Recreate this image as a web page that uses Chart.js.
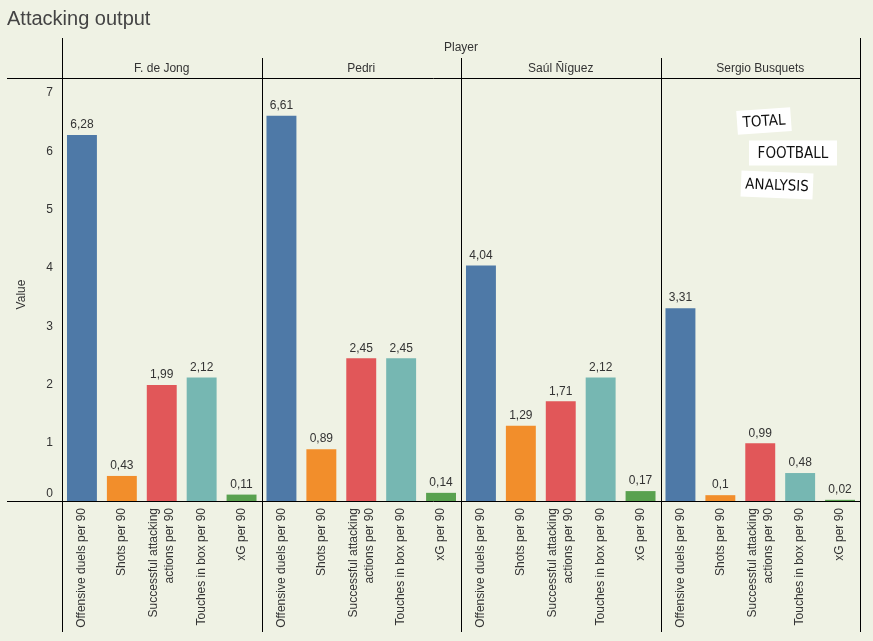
<!doctype html>
<html lang="en">
    <head>
        <meta charset="UTF-8" />
        <title>Attacking output</title>
        <script src="https://cdn.jsdelivr.net/npm/chart.js"></script>
        <style>
            html, body { margin: 0; padding: 0; background: #eff2e4; }
            #wrap { width: 873px; height: 641px; }
        </style>
    </head>
    <body>
        <div id="wrap"><canvas id="myChart"></canvas></div>
        <script>
            var players = ["F. de Jong", "Pedri", "Saúl Ñíguez", "Sergio Busquets"];
            var metricLabels = [
                ["Offensive duels per 90"],
                ["Shots per 90"],
                ["Successful attacking", "actions per 90"],
                ["Touches in box per 90"],
                ["xG per 90"]
            ];
            var deJong = [6.28, 0.43, 1.99, 2.12, 0.11];
            var pedri = [6.61, 0.89, 2.45, 2.45, 0.14];
            var saul = [4.04, 1.29, 1.71, 2.12, 0.17];
            var busquets = [3.31, 0.1, 0.99, 0.48, 0.02];
            var metricColors = ["#4e79a7", "#f28e2b", "#e15759", "#76b7b2", "#59a14f"];
            var yTicks = [0, 1, 2, 3, 4, 5, 6, 7];

            var FONT = "'Liberation Sans', Arial, sans-serif";
            var TEXT = "#333333";
            var BG = "#eff2e4";

            var labels = [];
            var values = [];
            var colors = [];
            [deJong, pedri, saul, busquets].forEach(function (arr) {
                arr.forEach(function (v, i) {
                    labels.push(metricLabels[i]);
                    values.push(v);
                    colors.push(metricColors[i]);
                });
            });

            var facetPlugin = {
                id: "facetFrame",
                beforeDraw: function (chart) {
                    var ctx = chart.ctx;
                    ctx.save();
                    ctx.fillStyle = BG;
                    ctx.fillRect(0, 0, chart.width, chart.height);
                    ctx.restore();
                },
                afterDatasetsDraw: function (chart) {
                    var ctx = chart.ctx;
                    var area = chart.chartArea;
                    var x = chart.scales.x;
                    var y = chart.scales.y;
                    ctx.save();

                    // title
                    ctx.fillStyle = "#444444";
                    ctx.font = "20px " + FONT;
                    ctx.textAlign = "left";
                    ctx.textBaseline = "alphabetic";
                    ctx.fillText("Attacking output", 7, 25);

                    // value labels on bars
                    var meta = chart.getDatasetMeta(0);
                    ctx.fillStyle = TEXT;
                    ctx.font = "12px " + FONT;
                    ctx.textAlign = "center";
                    ctx.textBaseline = "bottom";
                    meta.data.forEach(function (bar, i) {
                        var txt = String(values[i]).replace(".", ",");
                        ctx.fillText(txt, bar.x, bar.y - 4);
                    });

                    // x category labels, rotated, centred on each bar
                    labels.forEach(function (lines, i) {
                        var px = x.getPixelForValue(i);
                        lines.forEach(function (line, j) {
                            var off = (j - (lines.length - 1) / 2) * 16;
                            ctx.save();
                            ctx.translate(px + off, area.bottom + 7);
                            ctx.rotate(-Math.PI / 2);
                            ctx.textAlign = "right";
                            ctx.textBaseline = "middle";
                            ctx.fillText(line, 0, 0);
                            ctx.restore();
                        });
                    });

                    // lines
                    ctx.strokeStyle = "#000";
                    ctx.lineWidth = 1;
                    ctx.beginPath();
                    ctx.moveTo(7, Math.round(area.top) + 0.5);
                    ctx.lineTo(area.right, Math.round(area.top) + 0.5);
                    ctx.moveTo(7, Math.round(area.bottom) + 0.5);
                    ctx.lineTo(area.right, Math.round(area.bottom) + 0.5);
                    ctx.moveTo(Math.round(area.left) + 0.5, 38);
                    ctx.lineTo(Math.round(area.left) + 0.5, 632);
                    ctx.moveTo(Math.round(area.right) + 0.5, 38);
                    ctx.lineTo(Math.round(area.right) + 0.5, 632);
                    for (var p = 1; p < players.length; p++) {
                        var dx = Math.round((x.getPixelForValue(p * 5 - 1) + x.getPixelForValue(p * 5)) / 2) + 0.5;
                        ctx.moveTo(dx, 58);
                        ctx.lineTo(dx, 632);
                    }
                    ctx.stroke();

                    // header texts
                    ctx.fillStyle = TEXT;
                    ctx.font = "12px " + FONT;
                    ctx.textAlign = "center";
                    ctx.textBaseline = "middle";
                    ctx.fillText("Player", (area.left + area.right) / 2, 48);
                    players.forEach(function (name, p) {
                        var cx = (x.getPixelForValue(p * 5) + x.getPixelForValue(p * 5 + 4)) / 2;
                        ctx.fillText(name, cx, 69);
                    });

                    // y tick labels
                    ctx.textAlign = "right";
                    yTicks.forEach(function (v) {
                        var py = y.getPixelForValue(v);
                        if (v === 0) py -= 7;
                        ctx.fillText(String(v), 53, py);
                    });

                    // y title
                    ctx.save();
                    ctx.translate(22, (area.top + area.bottom) / 2 + 5);
                    ctx.rotate(-Math.PI / 2);
                    ctx.textAlign = "center";
                    ctx.fillText("Value", 0, 0);
                    ctx.restore();

                    // logo
                    var logo = [
                        { t: "TOTAL", x: 764, y: 121, w: 54, h: 24, r: -0.07 },
                        { t: "FOOTBALL", x: 793, y: 153, w: 88, h: 25, r: 0 },
                        { t: "ANALYSIS", x: 777, y: 185, w: 72, h: 26, r: 0.04 }
                    ];
                    logo.forEach(function (l) {
                        ctx.save();
                        ctx.translate(l.x, l.y);
                        ctx.rotate(l.r);
                        ctx.fillStyle = "#ffffff";
                        ctx.fillRect(-l.w / 2, -l.h / 2, l.w, l.h);
                        ctx.fillStyle = "#111";
                        ctx.font = "15px 'DejaVu Sans Condensed', 'Liberation Sans Narrow', sans-serif";
                        ctx.textAlign = "center";
                        ctx.textBaseline = "middle";
                        ctx.fillText(l.t, 0, 1);
                        ctx.restore();
                    });

                    ctx.restore();
                }
            };

            var ctxBar = document.getElementById("myChart").getContext("2d");
            var barChart = new Chart(ctxBar, {
                type: "bar",
                data: {
                    labels: labels,
                    datasets: [
                        {
                            label: "Value",
                            data: values,
                            backgroundColor: colors,
                            borderWidth: 0,
                            barPercentage: 0.75,
                            categoryPercentage: 1
                        }
                    ]
                },
                options: {
                    responsive: true,
                    maintainAspectRatio: false,
                    animation: false,
                    layout: {
                        padding: { top: 78, right: 13, left: 0, bottom: 0 }
                    },
                    plugins: {
                        legend: { display: false },
                        tooltip: { enabled: false }
                    },
                    scales: {
                        x: {
                            grid: { display: false, drawTicks: false },
                            border: { display: false },
                            ticks: { display: false },
                            afterFit: function (scale) {
                                scale.height = 140;
                            }
                        },
                        y: {
                            min: 0,
                            max: 7.26,
                            grid: { display: false, drawTicks: false },
                            border: { display: false },
                            ticks: { display: false },
                            afterFit: function (scale) {
                                scale.width = 62;
                            }
                        }
                    }
                },
                plugins: [facetPlugin]
            });
        </script>
    </body>
</html>
